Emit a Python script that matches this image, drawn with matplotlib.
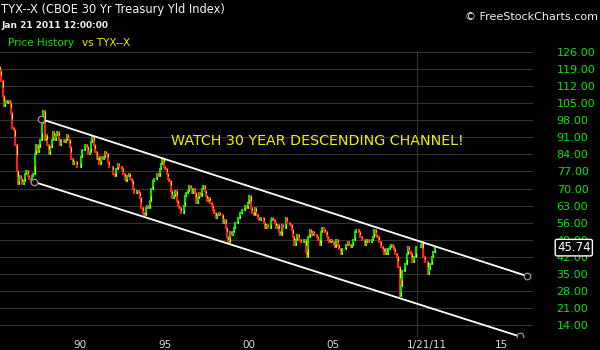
import matplotlib
matplotlib.use("Agg")
from matplotlib import pyplot as plt
import numpy as np

# monthly 30yr treasury yield index (x10), Mar 1985 .. Jan 2011
start_year, start_month = 1985, 3
closes = [
    118, 114, 108, 104, 106, 105, 106, 105, 101, 95,
    94, 88, 77, 72, 75, 74, 72, 73, 76, 77, 75, 74,
    73, 75, 76, 84, 88, 85, 87, 90, 97, 102, 90, 92,
    88, 84, 87, 90, 93, 90, 92, 93, 90, 88, 90, 90,
    89, 90, 92, 90, 87, 82, 80, 81, 81, 79, 79, 79,
    83, 86, 86, 88, 87, 84, 85, 89, 91, 88, 85, 82,
    83, 80, 83, 82, 83, 85, 84, 81, 79, 79, 79, 76,
    75, 78, 80, 79, 79, 78, 76, 74, 73, 75, 76, 74,
    73, 70, 68, 68, 69, 68, 66, 62, 60, 59, 62, 63,
    62, 65, 70, 73, 74, 74, 76, 75, 78, 80, 82, 79,
    78, 76, 74, 73, 69, 66, 67, 69, 65, 63, 62, 60,
    60, 63, 67, 68, 69, 71, 70, 68, 70, 68, 64, 66,
    68, 67, 70, 71, 69, 67, 65, 66, 64, 63, 61, 60,
    58, 59, 60, 59, 59, 56, 57, 54, 50, 48, 52, 51,
    52, 54, 56, 56, 58, 60, 60, 61, 61, 63, 62, 64,
    67, 62, 60, 59, 62, 59, 58, 57, 58, 58, 56, 54,
    55, 54, 54, 57, 58, 57, 56, 54, 55, 52, 51, 55,
    54, 54, 58, 56, 56, 55, 53, 50, 47, 49, 51, 49,
    49, 48, 48, 49, 44, 42, 50, 53, 51, 52, 51, 51,
    50, 49, 47, 52, 54, 53, 52, 50, 49, 48, 49, 48,
    47, 46, 49, 47, 45, 43, 45, 45, 45, 47, 48, 47,
    46, 47, 49, 52, 53, 53, 52, 50, 49, 49, 47, 48,
    49, 48, 48, 49, 50, 53, 51, 50, 48, 48, 46, 45,
    43, 45, 43, 45, 46, 47, 46, 45, 43, 42, 38, 26,
    30, 36, 36, 39, 43, 46, 44, 43, 40, 42, 42, 46,
    46, 46, 47, 48, 42, 40, 40, 35, 37, 39, 42, 44,
    45.74,
]
last_price = 45.74

# channel lines: (year, value) end points
upper_channel = [(1987.66, 98.5), (2016.52, 34.1)]
lower_channel = [(1987.25, 72.7), (2016.10, 9.3)]

grid_years = [1990, 1995, 2000, 2005, 2010, 2015]
xtick_pos = [1990, 1995, 2000, 2005, 2010.58, 2015]
xtick_labels = ['90', '95', '00', '05', '1/21/11', '15']
ytick_vals = np.arange(14, 127, 7)

GREEN = '#00e600'
RED = '#ff1c1c'
YELLOW = '#f0f000'

fig = plt.figure(figsize=(6, 3.5), dpi=100, facecolor='black')
ax = fig.add_axes([0, 13 / 350, 533 / 600, 286 / 350], facecolor='black')

n = len(closes)
months = np.arange(n) + (start_month - 1)
x = start_year + (months + 0.5) / 12.0
c = np.array(closes, dtype=float)
prev = np.concatenate([[c[0] + 2], c[:-1]])
lo = np.minimum(prev, c)
hi = np.maximum(prev, c)
up = c >= prev
cols = [GREEN if u else RED for u in up]
bars = ax.vlines(x, lo, hi, colors=cols, linewidth=1.5, zorder=3)
bars.set_capstyle('projecting')

# bars fade to yellow at the opening end
mid = prev + 0.4 * (c - prev)
ax.vlines(x, np.minimum(prev, mid), np.maximum(prev, mid), colors=YELLOW,
          linewidth=0.8, zorder=3.5)

for pts in (upper_channel, lower_channel):
    xs, ys = zip(*pts)
    ax.plot(xs, ys, color='white', linewidth=1.3, zorder=4)
    ax.scatter(xs, ys, s=22, facecolor='black', edgecolor='#8c8c8c',
               linewidth=1.0, zorder=5)

ax.text(2004.05, 89.5, 'WATCH 30 YEAR DESCENDING CHANNEL!', color=YELLOW,
        fontsize=10.3, ha='center', va='center', zorder=6)

ax.set_xlim(1985.226, 2016.88)
ax.set_ylim(9.08, 126.41)

ax.set_xticks(grid_years, minor=True)
ax.set_xticks(xtick_pos, xtick_labels)
ax.set_yticks(ytick_vals, ['%.2f' % v for v in ytick_vals])
ax.yaxis.tick_right()
ax.tick_params(axis='y', which='both', length=0, pad=17, labelsize=8,
               labelcolor=GREEN)
for lbl in ax.get_yticklabels():
    lbl.set_horizontalalignment('left')
ax.tick_params(axis='x', which='both', length=0, pad=2, labelsize=7.5,
               labelcolor='#d8d8d8')
ax.grid(axis='x', which='minor', color='#333333', linewidth=0.8)
ax.grid(axis='y', which='major', color='#333333', linewidth=0.8)
ax.set_axisbelow(True)
for s in ax.spines.values():
    s.set_visible(False)

ax.annotate('%.2f' % last_price, xy=(1.045, last_price),
            xycoords=('axes fraction', 'data'), ha='left', va='center',
            color='white', fontsize=8.5, annotation_clip=False, zorder=10,
            bbox=dict(boxstyle='round,pad=0.15', fc='black', ec='white', lw=1))

fig.text(1 / 600, 1 - 10 / 350, 'TYX--X (CBOE 30 Yr Treasury Yld Index)',
         color='#f2f2f2', fontsize=8.3, ha='left', va='center')
fig.text(1 / 600, 1 - 25 / 350, 'Jan 21 2011 12:00:00', color='#f2f2f2',
         fontsize=6.5, fontweight='bold', ha='left', va='center')
fig.text(8 / 600, 1 - 43 / 350, 'Price History ', color=GREEN,
         fontsize=7.5, ha='left', va='center')
fig.text(82 / 600, 1 - 43 / 350, 'vs TYX--X', color=YELLOW,
         fontsize=7.5, ha='left', va='center')
fig.text(598 / 600, 1 - 17 / 350, '\u00a9 FreeStockCharts.com',
         color='#f2f2f2', fontsize=8, ha='right', va='center')

fig.savefig('out.png', dpi=100, facecolor='black')
